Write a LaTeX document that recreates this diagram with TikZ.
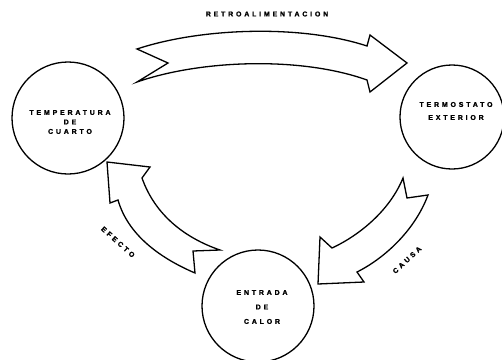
\documentclass[tikz,border=0pt]{standalone}
\usepackage{fontspec}
\setmainfont{Liberation Sans}
\newfontfamily\ancho[LetterSpace=40,FakeBold=1.5]{Liberation Sans Bold}
\begin{document}
\begin{tikzpicture}[x=1pt,y=-1pt]
	\tikzset{estado/.style = {shape=circle,draw,line width=1.3pt,inner sep=0pt}}
	\tikzset{rotulo/.style = {font=\ancho\fontsize{7}{9.5}\selectfont,align=center,inner sep=0pt}}
	\tikzset{flecha/.style = {draw,line width=1.3pt,line join=miter}}
	\useasboundingbox (0,0) rectangle (502,359);
	\node[estado,minimum size=112pt] (cuarto) at (68,118) {};
	\node[estado,minimum size=104pt] (termostato) at (452,117) {};
	\node[estado,minimum size=112pt] (calor) at (258,306) {};
	\node[rotulo] (tcuarto) at (70,122) {TEMPERATURA\\DE\\CUARTO};
	\node[rotulo] (ttermostato) at (456,111) {TERMOSTATO\\[3.5pt]EXTERIOR};
	\node[rotulo] (tcalor) at (262,307) {ENTRADA\\[5pt]DE\\[5pt]CALOR};
	\path[flecha] (137,49) -- (168,63) -- (137,82) .. controls (200,60) and (300,56) .. (367,80)
		-- (370,92) -- (407,63) -- (370,35) -- (367,46) .. controls (300,24) and (200,28) .. cycle;
	\path[flecha] (107,162) -- (150,167) -- (142,178) .. controls (155,215) and (185,238) .. (220,250)
		-- (193,251) -- (195,273) .. controls (160,258) and (128,235) .. (118,200) -- (110,203) -- cycle;
	\path[flecha] (403,178) -- (407,198) -- (428,195) .. controls (415,230) and (385,258) .. (357,272)
		-- (364,282) -- (318,284) -- (320,237) -- (332,248) .. controls (360,235) and (390,210) .. cycle;
	\node[rotulo] (retro) at (267,14) {RETROALIMENTACION};
	\node[rotulo,rotate=-42] (efecto) at (118,242) {EFECTO};
	\node[rotulo,rotate=43] (causa) at (407,260) {CAUSA};
\end{tikzpicture}
\end{document}
